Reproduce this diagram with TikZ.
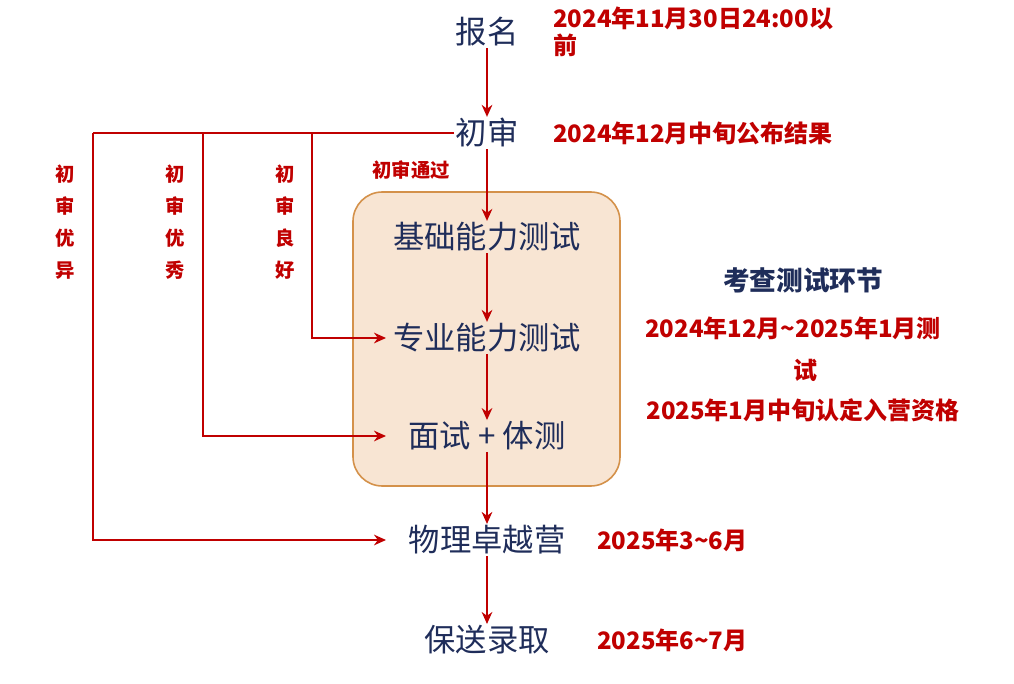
\documentclass[tikz,border=0pt]{standalone}
\usepackage{fontspec}
\newfontfamily\cjk{Noto Sans CJK SC}
\usetikzlibrary{arrows.meta}
\definecolor{navy}{HTML}{1F2D5A}
\definecolor{dred}{HTML}{C00000}
\definecolor{boxfill}{HTML}{F8E5D3}
\definecolor{boxdraw}{HTML}{D4914A}
\begin{document}
\begin{tikzpicture}[x=0.75pt,y=-0.75pt,
  main/.style={font=\cjk\fontsize{23.5}{28}\selectfont, text=navy, inner sep=1pt},
  note/.style={font=\cjk\bfseries\fontsize{18}{21}\selectfont, text=dred, inner sep=0pt, anchor=west},
  lab/.style={font=\cjk\bfseries\fontsize{14.5}{24}\selectfont, text=dred, align=center, inner sep=0pt},
  arr/.style={draw=dred, line width=1.3pt, -{Stealth[length=9pt,width=8pt]}},
  ln/.style={draw=dred, line width=1.3pt}]
\useasboundingbox (0,0) rectangle (1014,684);
\draw[fill=boxfill, draw=boxdraw, line width=1.2pt, rounded corners=22pt] (353,192) rectangle (620,486);
\node[main] (a) at (487,32) {报名};
\node[main] (b) at (487,133) {初审};
\node[main] (c) at (487,237) {基础能力测试};
\node[main] (d) at (487,338) {专业能力测试};
\node[main] (e) at (487,436) {面试 + 体测};
\node[main] (f) at (487,540) {物理卓越营};
\node[main] (g) at (487,640) {保送录取};
\draw[arr] (a) -- (b);
\draw[arr] (b) -- (c);
\draw[arr] (c) -- (d);
\draw[arr] (d) -- (e);
\draw[arr] (e) -- (f);
\draw[arr] (f) -- (g);
\coordinate (k1) at (93,133);
\coordinate (k2) at (203,133);
\coordinate (k3) at (312,133);
\coordinate (e1) at (386,540);
\coordinate (e2) at (386,436);
\coordinate (e3) at (386,338);
\draw[ln] (b.west) -- (k1);
\draw[arr] (k1) |- (e1);
\draw[arr] (k2) |- (e2);
\draw[arr] (k3) |- (e3);
\node[lab] (l1) at (65,222) {初\\审\\优\\异};
\node[lab] (l2) at (175,222) {初\\审\\优\\秀};
\node[lab] (l3) at (285,222) {初\\审\\良\\好};
\node[lab] (l4) at (411,170) {初审通过};
\node[note] (n1) at (553,18) {2024年11月30日24:00以};
\node[note] (n1b) at (553,45) {前};
\node[note] (n2) at (553,133) {2024年12月中旬公布结果};
\node[main, font=\cjk\bfseries\fontsize{20}{24}\selectfont] (t) at (803,280) {考查测试环节};
\node[note] (n3) at (645,328) {2024年12月\textasciitilde2025年1月测};
\node[note, anchor=center] (n3b) at (805,370) {试};
\node[note, anchor=center] (n4) at (803,410) {2025年1月中旬认定入营资格};
\node[note] (n5) at (597,540) {2025年3\textasciitilde6月};
\node[note] (n6) at (597,640) {2025年6\textasciitilde7月};
\end{tikzpicture}
\end{document}
